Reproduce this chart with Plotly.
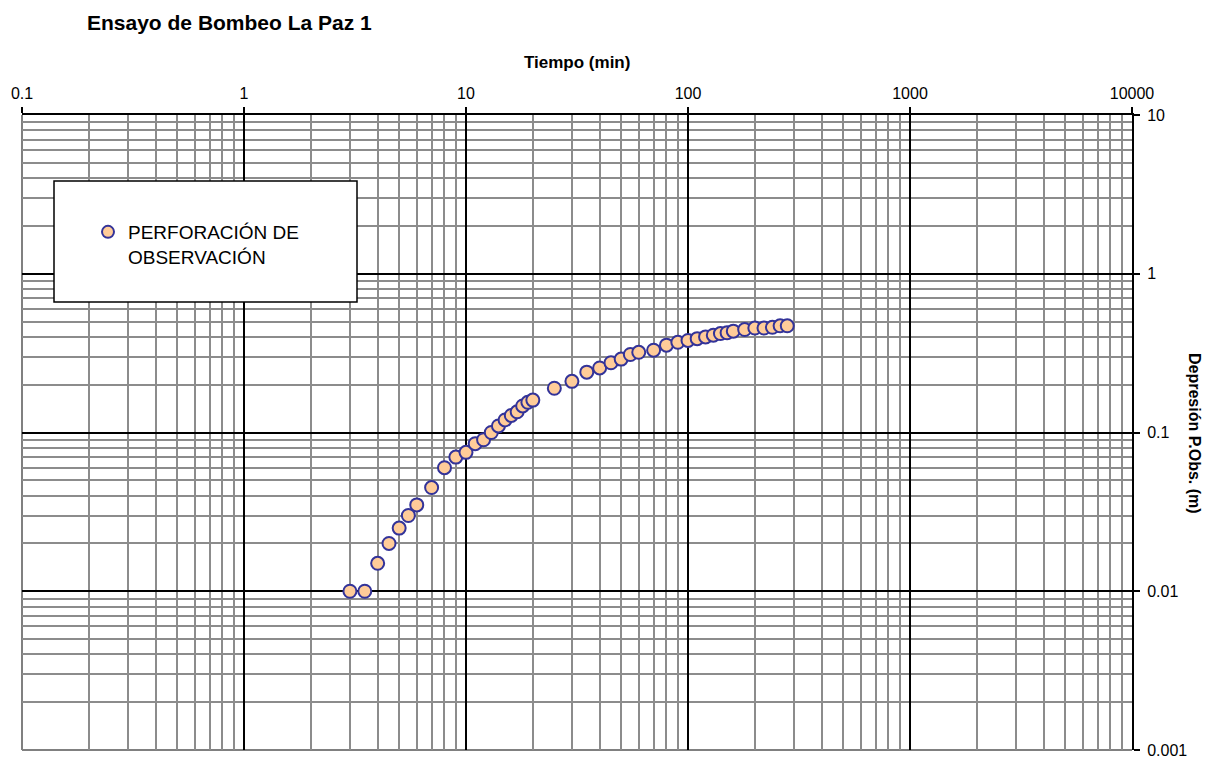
import plotly.graph_objects as go

# Pumping test, observation well: elapsed time (min) vs drawdown (m)
tiempo_min = [3, 3.5, 4, 4.5, 5, 5.5, 6, 7, 8, 9, 10, 11, 12, 13, 14, 15, 16, 17, 18, 19, 20,
              25, 30, 35, 40, 45, 50, 55, 60, 70, 80, 90, 100, 110, 120, 130, 140, 150,
              160, 180, 200, 220, 240, 260, 280]
depresion_m = [0.01, 0.01, 0.015, 0.02, 0.025, 0.03, 0.035, 0.045, 0.06, 0.07, 0.075, 0.085,
               0.09, 0.1, 0.11, 0.12, 0.128, 0.135, 0.147, 0.155, 0.16,
               0.19, 0.21, 0.24, 0.255, 0.275, 0.29, 0.31, 0.32, 0.33, 0.355, 0.37, 0.38,
               0.39, 0.40, 0.41, 0.42, 0.425, 0.435, 0.445, 0.455, 0.455, 0.46, 0.47, 0.47]

x_ticks = [0.1, 1, 10, 100, 1000, 10000]
x_tick_text = ["0.1", "1", "10", "100", "1000", "10000"]
y_ticks = [0.001, 0.01, 0.1, 1, 10]
y_tick_text = ["0.001", "0.01", "0.1", "1", "10"]

serie_nombre = "PERFORACIÓN DE<br>OBSERVACIÓN"
titulo = "Ensayo de Bombeo La Paz 1"
titulo_x = "Tiempo (min)"
titulo_y = "Depresión P.Obs. (m)"

FONT = "Liberation Sans, Arial, sans-serif"
W, H = 1218, 758
L, R, T, B = 22, 86, 115, 8
pw, ph = W - L - R, H - T - B


def minor_vals(lo_exp, hi_exp):
    vals = []
    for e in range(lo_exp, hi_exp):
        for k in range(2, 10):
            vals.append(k * 10 ** e)
    return vals


fig = go.Figure()
fig.add_trace(go.Scatter(
    x=tiempo_min, y=depresion_m, mode="markers", name=serie_nombre,
    marker=dict(symbol="circle", size=13, color="#FFCC99",
                line=dict(color="#333399", width=2)),
))

fig.update_layout(
    width=W, height=H,
    margin=dict(l=L, r=R, t=T, b=B, autoexpand=False),
    paper_bgcolor="white", plot_bgcolor="white",
    font=dict(family=FONT, color="black", size=16),
    title=dict(text="<b>" + titulo + "</b>", x=87 / W, xanchor="left",
               y=1 - 23 / H, yanchor="middle",
               font=dict(family=FONT, size=21, color="black")),
    showlegend=True,
    legend=dict(x=(88 - L) / pw, xanchor="left",
                y=(H - B - 213) / ph, yanchor="top",
                bgcolor="rgba(0,0,0,0)", borderwidth=0, valign="top",
                font=dict(family=FONT, size=19, color="black"),
                itemwidth=30, itemsizing="constant"),
)

fig.update_xaxes(
    type="log", range=[-1, 4], side="top", automargin=False,
    tickmode="array", tickvals=x_ticks, ticktext=x_tick_text,
    ticks="outside", ticklen=6, tickwidth=2, tickcolor="black",
    showline=True, linecolor="black", linewidth=2,
    showgrid=True, gridcolor="black", gridwidth=1.5,
    minor=dict(tickmode="array", tickvals=minor_vals(-1, 4), showgrid=True,
               gridcolor="#8c8c8c", gridwidth=2, ticks=""),
    tickfont=dict(family=FONT, size=16),
    ticklabelstandoff=2, ticklabeloverflow="allow",
    zeroline=False,
)
fig.update_yaxes(
    type="log", range=[-3, 1], side="right", automargin=False,
    tickmode="array", tickvals=y_ticks, ticktext=y_tick_text,
    ticks="outside", ticklen=6, tickwidth=2, tickcolor="black",
    showline=True, linecolor="black", linewidth=2,
    showgrid=True, gridcolor="black", gridwidth=1.5,
    minor=dict(tickmode="array", tickvals=minor_vals(-3, 1), showgrid=True,
               gridcolor="#8c8c8c", gridwidth=2, ticks=""),
    tickfont=dict(family=FONT, size=16),
    ticklabelstandoff=4, ticklabeloverflow="allow",
    zeroline=False,
)

# Gray plot-area border on the left and bottom edges
fig.add_shape(type="line", xref="paper", yref="paper", x0=0, x1=0, y0=0, y1=1,
              line=dict(color="#808080", width=2), layer="between")
fig.add_shape(type="line", xref="paper", yref="paper", x0=0, x1=1, y0=0, y1=0,
              line=dict(color="#808080", width=2), layer="between")

# Legend frame
fig.add_shape(type="rect", xref="paper", yref="paper",
              x0=(54 - L) / pw, x1=(357 - L) / pw,
              y0=(H - B - 302) / ph, y1=(H - B - 181) / ph,
              fillcolor="white", line=dict(color="black", width=1.5), layer="above")

# Axis titles
fig.add_annotation(text="<b>" + titulo_x + "</b>", xref="paper", yref="paper",
                   x=0.5, y=1 + (T - 62) / ph, xanchor="center", yanchor="middle",
                   showarrow=False, font=dict(family=FONT, size=17, color="black"))
fig.add_annotation(text="<b>" + titulo_y + "</b>", xref="paper", yref="paper",
                   x=1 + (1195 - (W - R)) / pw, y=(H - B - 433) / ph,
                   xanchor="center", yanchor="middle", textangle=90,
                   showarrow=False, font=dict(family=FONT, size=16, color="black"))

fig.write_html("out.html")
